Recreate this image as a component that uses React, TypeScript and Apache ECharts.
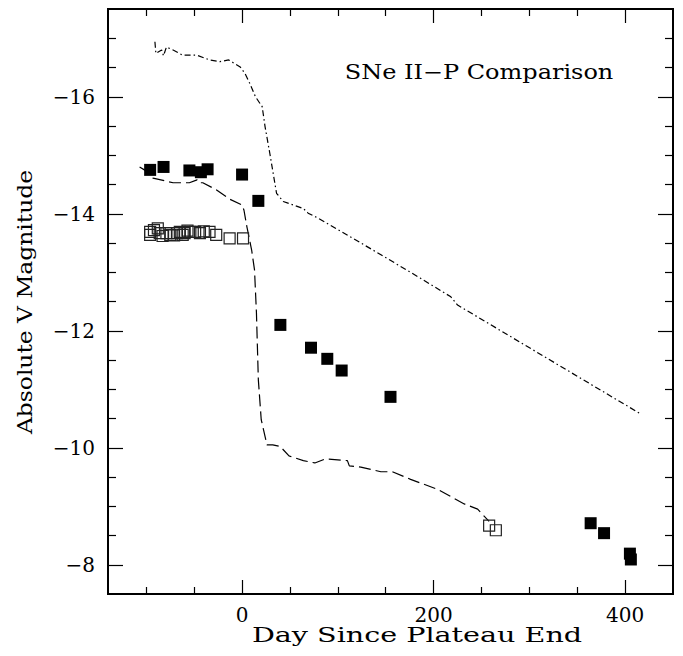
import React, { useEffect, useRef } from "react";
import * as echarts from "echarts";

// Filled squares
const filledX = [-96, -82, -55, -43, -36, 0, 17, 40, 72, 89, 104, 155, 364, 378, 405, 406];
const filledY = [-14.75, -14.8, -14.74, -14.71, -14.76, -14.67, -14.22, -12.1, -11.71, -11.52, -11.32, -10.87, -8.71, -8.54, -8.19, -8.09];

// Open squares
const openX = [-96, -96, -92, -88, -86, -83, -79, -75, -71, -68, -65, -62, -60, -57, -54, -49, -44, -40, -34, -27, -13, 1, 258, 265];
const openY = [-13.69, -13.64, -13.72, -13.75, -13.67, -13.62, -13.67, -13.64, -13.63, -13.67, -13.69, -13.64, -13.67, -13.71, -13.69, -13.69, -13.67, -13.7, -13.69, -13.64, -13.58, -13.58, -8.67, -8.59];

// Dashed light curve
const dashX = [-107, -102, -93, -72, -55, -47, -45, -41, -27, -13, 0, 2, 5, 10, 13, 15, 17, 20, 26, 32, 40, 49, 64, 76, 87, 110, 112, 124, 145, 157, 176, 204, 232, 246, 258];
const dashY = [-14.8, -14.75, -14.61, -14.53, -14.53, -14.58, -14.53, -14.53, -14.41, -14.25, -14.15, -14.06, -13.78, -13.38, -13.04, -12.31, -11.16, -10.48, -10.05, -10.05, -10.02, -9.86, -9.78, -9.74, -9.81, -9.78, -9.69, -9.67, -9.59, -9.59, -9.46, -9.29, -9.04, -8.95, -8.74];

// Dash-dot light curve
const ddX = [-91, -90, -84, -82, -79, -72, -62, -47, -34, -23, -14, -2, 3, 8, 14, 21, 24, 29, 36, 43, 64, 69, 80, 145, 186, 218, 225, 415];
const ddY = [-16.94, -16.74, -16.8, -16.7, -16.85, -16.8, -16.71, -16.71, -16.63, -16.6, -16.63, -16.51, -16.4, -16.23, -16.0, -15.83, -15.49, -15.03, -14.35, -14.21, -14.09, -14.01, -13.92, -13.3, -12.9, -12.58, -12.44, -10.59];

const xMajor = [0, 200, 400];
const xMinor = [-100, -50, 50, 100, 150, 250, 300, 350];
const yMajor = [-16, -14, -12, -10, -8];
const yMinor = [-17, -16.5, -15.5, -15, -14.5, -13.5, -13, -12.5, -11.5, -11, -10.5, -9.5, -9, -8.5];

const X_MIN = -140;
const X_MAX = 450;
const Y_MIN = -17.5;
const Y_MAX = -7.5;

const FONT = "DejaVu Serif";

function zip(a: number[], b: number[]) {
  return a.map((v, i) => [v, b[i]]);
}

export default function App() {
  const ref = useRef<HTMLDivElement>(null);
  useEffect(() => {
    if (!ref.current) return;
    const chart = echarts.init(ref.current, undefined, { renderer: "svg" });
    const xAx = (pos: "bottom" | "top", ticks: number[], len: number, labels: boolean) => ({
      type: "value",
      position: pos,
      min: X_MIN,
      max: X_MAX,
      axisLine: { show: false, onZero: false },
      splitLine: { show: false },
      axisTick: {
        show: true,
        inside: true,
        length: len,
        customValues: ticks,
        lineStyle: { color: "#000", width: 1.2 },
      },
      axisLabel: labels
        ? {
            show: true,
            customValues: ticks,
            fontFamily: FONT,
            fontSize: 20,
            color: "#000",
            margin: 11,
          }
        : { show: false },
    });
    const yAx = (pos: "left" | "right", ticks: number[], len: number, labels: boolean) => ({
      type: "value",
      position: pos,
      inverse: true,
      min: Y_MIN,
      max: Y_MAX,
      axisLine: { show: false, onZero: false },
      splitLine: { show: false },
      axisTick: {
        show: true,
        inside: true,
        length: len,
        customValues: ticks,
        lineStyle: { color: "#000", width: 1.2 },
      },
      axisLabel: labels
        ? {
            show: true,
            customValues: ticks,
            fontFamily: FONT,
            fontSize: 20,
            color: "#000",
            margin: 13,
            formatter: (v: number) => (v < 0 ? "\u2212" + Math.abs(v) : String(v)),
          }
        : { show: false },
    });
    chart.setOption({
      animation: false,
      backgroundColor: "#fff",
      grid: {
        left: 108,
        top: 9,
        right: 10,
        bottom: 62,
        show: true,
        borderColor: "#000",
        borderWidth: 2,
        backgroundColor: "transparent",
      },
      xAxis: [
        xAx("bottom", xMajor, 14, true),
        xAx("bottom", xMinor, 7, false),
        xAx("top", xMajor, 14, false),
        xAx("top", xMinor, 7, false),
      ],
      yAxis: [
        yAx("left", yMajor, 15, true),
        yAx("left", yMinor, 8, false),
        yAx("right", yMajor, 15, false),
        yAx("right", yMinor, 8, false),
      ],
      series: [
        {
          type: "line",
          data: zip(dashX, dashY),
          showSymbol: false,
          symbol: "none",
          lineStyle: { color: "#000", width: 1.2, type: [12, 5] },
          z: 2,
        },
        {
          type: "line",
          data: zip(ddX, ddY),
          showSymbol: false,
          symbol: "none",
          lineStyle: { color: "#000", width: 1.2, type: [6, 3, 1.5, 3] },
          z: 2,
        },
        {
          type: "scatter",
          data: zip(openX, openY),
          symbol: "rect",
          symbolSize: 11,
          itemStyle: { color: "rgba(0,0,0,0)", borderColor: "#222", borderWidth: 1.2, opacity: 1 },
          z: 3,
        },
        {
          type: "scatter",
          data: zip(filledX, filledY),
          symbol: "rect",
          symbolSize: 12,
          itemStyle: { color: "#000", opacity: 1 },
          z: 4,
        },
      ],
      graphic: [
        {
          type: "text",
          x: 479,
          y: 72,
          scaleX: 1.2,
          style: {
            text: "SNe II\u2212P Comparison",
            font: `20px "${FONT}"`,
            fill: "#000",
            textAlign: "center",
            textVerticalAlign: "middle",
          },
        },
        {
          type: "text",
          x: 417,
          y: 635,
          scaleX: 1.43,
          style: {
            text: "Day Since Plateau End",
            font: `20px "${FONT}"`,
            fill: "#000",
            textAlign: "center",
            textVerticalAlign: "middle",
          },
        },
        {
          type: "text",
          x: 25,
          y: 302,
          rotation: Math.PI / 2,
          scaleX: 1.17,
          style: {
            text: "Absolute V Magnitude",
            font: `20px "${FONT}"`,
            fill: "#000",
            textAlign: "center",
            textVerticalAlign: "middle",
          },
        },
      ],
    });
    return () => chart.dispose();
  }, []);
  return <div ref={ref} style={{ width: 683, height: 656, position: "absolute", left: 0, top: 0 }} />;
}
